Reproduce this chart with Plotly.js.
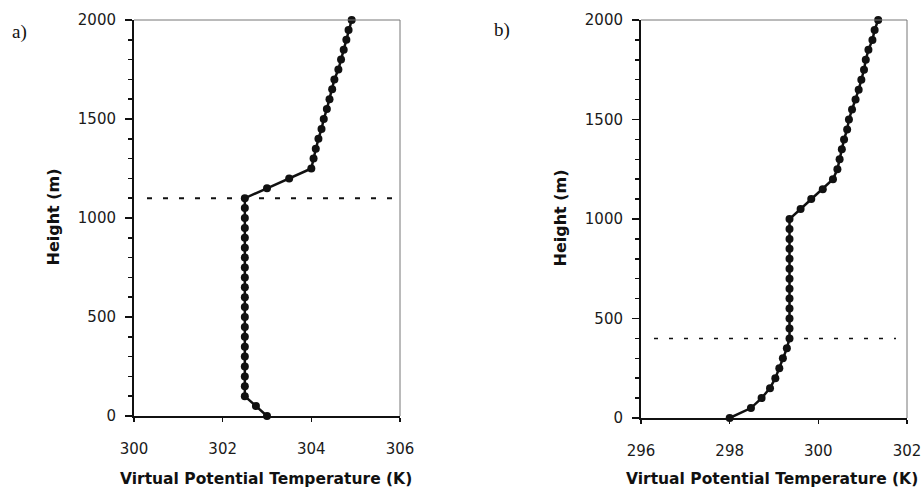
<!DOCTYPE html>
<html>
<head>
<meta charset="utf-8">
<script src="https://cdn.plot.ly/plotly-3.0.1.min.js"></script>
<style>
html,body{margin:0;padding:0;background:#fff;}
#chart{width:922px;height:488px;}
</style>
</head>
<body>
<div id="chart"></div>
<script>
// Heights (m) of the profile levels
const heightsA = [0,50,100,150,200,250,300,350,400,450,500,550,600,650,700,750,800,850,900,950,1000,1050,1100,1150,1200,1250,1300,1350,1400,1450,1500,1550,1600,1650,1700,1750,1800,1850,1900,1950,2000];
const heightsB = [0,50,100,150,200,250,300,350,400,450,500,550,600,650,700,750,800,850,900,950,1000,1050,1100,1150,1200,1250,1300,1350,1400,1450,1500,1550,1600,1650,1700,1750,1800,1850,1900,1950,2000];
// Virtual potential temperature (K)
const thetaA = [303.0,302.75,302.5,302.5,302.5,302.5,302.5,302.5,302.5,302.5,302.5,302.5,302.5,302.5,302.5,302.5,302.5,302.5,302.5,302.5,302.5,302.5,302.5,303.0,303.5,304.0,304.05,304.1,304.16,304.23,304.28,304.35,304.41,304.47,304.52,304.61,304.67,304.73,304.79,304.84,304.91];
const thetaB = [298.0,298.48,298.72,298.91,299.03,299.12,299.2,299.29,299.35,299.35,299.35,299.35,299.35,299.35,299.35,299.35,299.35,299.35,299.35,299.35,299.35,299.6,299.84,300.1,300.33,300.43,300.48,300.53,300.58,300.65,300.69,300.76,300.84,300.91,300.97,301.03,301.07,301.13,301.22,301.27,301.35];
// Boundary-layer top markers (m)
const blTopA = 1100;
const blTopB = 400;
// Axis ticks
const xTicksA = [300,302,304,306];
const xTicksB = [296,298,300,302];
const yTicks = [0,500,1000,1500,2000];
const yMinorTicks = [100,200,300,400,600,700,800,900,1100,1200,1300,1400,1600,1700,1800,1900];
const panelLabels = ["a)","b)"];
const xTitle = "Virtual Potential Temperature (K)";
const yTitle = "Height (m)";

const W = 922, H = 488;
const px = v => v / W, py = v => 1 - v / H;

const tickFont = {family: "DejaVu Sans", size: 15, color: "#1a1a1a"};
const titleFont = {family: "DejaVu Sans", size: 16, color: "#111", weight: "bold"};
const xTitleFont = {family: "DejaVu Sans", size: 15.5, color: "#111", weight: "bold"};

function traceOf(x, y, xa, ya) {
  return {
    x: x, y: y, xaxis: xa, yaxis: ya, type: "scatter", mode: "lines+markers",
    line: {color: "#111", width: 2.5},
    marker: {color: "#111", size: 8, symbol: "circle"},
    cliponaxis: false, showlegend: false, hoverinfo: "x+y"
  };
}

function xAxis(domain, range, ticks, anchor) {
  return {
    domain: domain, range: range, anchor: anchor,
    tickvals: ticks, ticktext: ticks.map(String),
    showgrid: false, zeroline: false,
    showline: true, linecolor: "#111", linewidth: 2,
    ticks: "outside", ticklen: 4, tickwidth: 1.5, tickcolor: "#111",
    ticklabelstandoff: 14,
    tickfont: tickFont, fixedrange: true
  };
}
function yAxis(domain, anchor) {
  return {
    domain: domain, range: [0, 2000], anchor: anchor,
    tickvals: yTicks, ticktext: yTicks.map(String),
    showgrid: false, zeroline: false,
    showline: true, linecolor: "#111", linewidth: 2,
    ticks: "outside", ticklen: 7, tickwidth: 1.5, tickcolor: "#111",
    ticklabelstandoff: 6,
    minor: {tickvals: yMinorTicks, ticks: "outside", ticklen: 4, tickwidth: 1.5, tickcolor: "#111"},
    tickfont: tickFont, fixedrange: true
  };
}

const aL = 134, aR = 400, aT = 20, aB = 416;
const bL = 641, bR = 907, bT = 20, bB = 418;

const data = [
  traceOf(thetaA, heightsA, "x", "y"),
  traceOf(thetaB, heightsB, "x2", "y2")
];

const ann = (text, x, y, font, extra) => Object.assign({
  text: text, xref: "paper", yref: "paper", x: px(x), y: py(y),
  xanchor: "center", yanchor: "middle", showarrow: false, font: font
}, extra || {});

const layout = {
  width: W, height: H,
  margin: {l: 0, r: 0, t: 0, b: 0},
  paper_bgcolor: "#fff", plot_bgcolor: "#fff",
  showlegend: false,
  xaxis: xAxis([px(aL), px(aR)], [300, 306], xTicksA, "y"),
  yaxis: yAxis([py(aB), py(aT)], "x"),
  xaxis2: xAxis([px(bL), px(bR)], [296, 302], xTicksB, "y2"),
  yaxis2: yAxis([py(bB), py(bT)], "x2"),
  shapes: [
    // grey frame (top and right)
    {type: "line", xref: "paper", yref: "paper", x0: px(aL), x1: px(aR), y0: py(aT), y1: py(aT), line: {color: "#777", width: 1}},
    {type: "line", xref: "paper", yref: "paper", x0: px(aR), x1: px(aR), y0: py(aT), y1: py(aB), line: {color: "#777", width: 1}},
    {type: "line", xref: "paper", yref: "paper", x0: px(bL), x1: px(bR), y0: py(bT), y1: py(bT), line: {color: "#777", width: 1}},
    {type: "line", xref: "paper", yref: "paper", x0: px(bR), x1: px(bR), y0: py(bT), y1: py(bB), line: {color: "#777", width: 1}},
    // boundary-layer top lines
    {type: "line", xref: "paper", yref: "y", x0: px(147), x1: px(403), y0: blTopA, y1: blTopA, line: {color: "#111", width: 2, dash: "5px,11px"}},
    {type: "line", xref: "paper", yref: "y2", x0: px(654), x1: px(896), y0: blTopB, y1: blTopB, line: {color: "#111", width: 1.5, dash: "4px,11px"}}
  ],
  annotations: [
    ann(panelLabels[0], 19, 32, {family: "Liberation Serif", size: 19, color: "#111"}),
    ann(panelLabels[1], 502, 30, {family: "Liberation Serif", size: 19, color: "#111"}),
    ann(xTitle, 266, 479, xTitleFont),
    ann(xTitle, 772, 479, xTitleFont),
    ann(yTitle, 53, 217.5, titleFont, {textangle: -90}),
    ann(yTitle, 560, 218.5, titleFont, {textangle: -90})
  ]
};

Plotly.newPlot("chart", data, layout, {staticPlot: true, displayModeBar: false});
</script>
</body>
</html>
